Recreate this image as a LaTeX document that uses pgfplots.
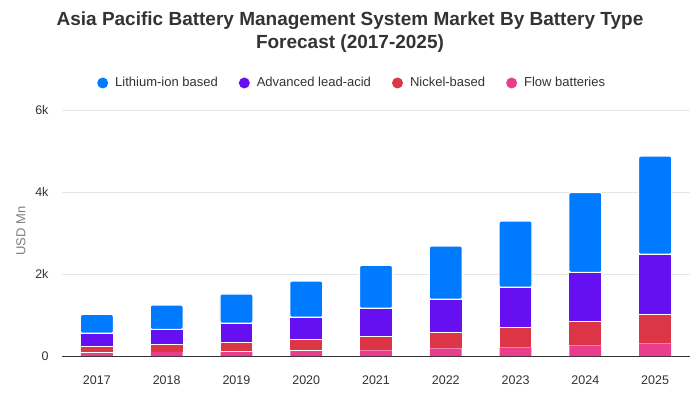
\documentclass[border=0pt]{standalone}
\usepackage{pgfplots}
\usepackage{pgfplotstable}
\pgfplotsset{compat=1.18}
\usepackage{fontspec}
\setmainfont{Liberation Sans}
\definecolor{cli}{HTML}{007BFF}
\definecolor{cla}{HTML}{6610F2}
\definecolor{cni}{HTML}{DC3545}
\definecolor{cfl}{HTML}{E83E8C}
\definecolor{txt}{HTML}{333333}
\pgfplotsset{
  layers/linesontop/.define layer set={axis background,axis grid,axis ticks,axis tick labels,pre main,main,axis lines,axis descriptions,axis foreground}{},
  dotlegend/.style={legend image code/.code={\fill[##1,draw=none] (0pt,0pt) circle (5.5pt);}}}
\pgfplotstableread{
x year flow nickel lead lithium
0 2017 73 163 317 463
1 2018 95 190 365 594
2 2019 100 235 464 715
3 2020 122 276 545 886
4 2021 138 342 683 1048
5 2022 187 390 805 1301
6 2023 211 489 975 1618
7 2024 260 586 1194 1950
8 2025 310 707 1463 2398
}\datatable
\begin{document}
\begin{tikzpicture}[x=1pt,y=1pt]
\path (0,0) rectangle (700,400);
\node[font=\fontsize{19}{23}\selectfont\bfseries, text=txt, align=center] at (350,367.5) {Asia Pacific Battery Management System Market By Battery Type\\Forecast (2017-2025)};
\node[font=\fontsize{13}{15}\selectfont, text=gray, rotate=90] at (21,169) {USD Mn};
\begin{axis}[
  set layers=linesontop,
  at={(62pt,44pt)}, anchor=south west,
  width=628pt, height=246pt, scale only axis,
  ybar stacked, bar width=33pt,
  xmin=-0.5, xmax=8.5, ymin=0, ymax=6000,
  xtick={0,...,8}, xticklabels={2017,2018,2019,2020,2021,2022,2023,2024,2025},
  ytick={0,2000,4000,6000}, yticklabels={0,2k,4k,6k},
  ymajorgrids, grid style={draw=black!10, line width=0.8pt},
  axis x line*=bottom, axis y line*=left,
  y axis line style={draw=none},
  x axis line style={draw=txt, line width=1pt, -},
  major tick length=0pt,
  tick label style={font=\fontsize{12.5}{14}\selectfont, text=txt},
  xticklabel style={yshift=-16pt},
  yticklabel style={xshift=-10pt},
  legend style={at={(0.462,1.1098)}, anchor=center, draw=none, legend columns=4,
    font=\fontsize{13}{15}\selectfont, text=txt,
    /tikz/every odd column/.append style={column sep=5pt},
    /tikz/every even column/.append style={column sep=19pt}},
  reverse legend,
  every axis plot/.append style={draw=white, line width=1.2pt},
]
\addplot[fill=cfl, draw=none, bar width=31.8pt, dotlegend] table[x=x,y=flow]{\datatable};
\addlegendentry{Flow batteries}
\addplot[fill=cni, dotlegend] table[x=x,y=nickel]{\datatable};
\addlegendentry{Nickel-based}
\addplot[fill=cla, dotlegend] table[x=x,y=lead]{\datatable};
\addlegendentry{Advanced lead-acid}
\addplot[fill=cli, rounded corners=2pt, dotlegend] table[x=x,y=lithium]{\datatable};
\addlegendentry{Lithium-ion based}
\end{axis}
\end{tikzpicture}
\end{document}
